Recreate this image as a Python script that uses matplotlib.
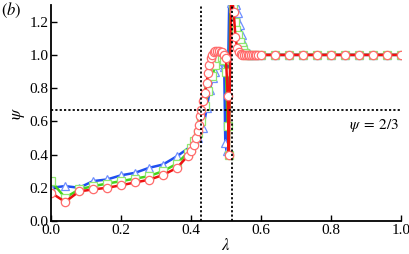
import matplotlib
matplotlib.use("Agg")
import matplotlib.pyplot as plt
import numpy as np

plt.rcParams['font.family'] = ['Liberation Serif', 'DejaVu Serif']
plt.rcParams['mathtext.fontset'] = 'stix'

# red circles
x_red = [0.0, 0.04, 0.08, 0.12, 0.16, 0.20, 0.24, 0.28, 0.32, 0.36,
         0.39, 0.40, 0.41, 0.415, 0.42, 0.423, 0.426, 0.43, 0.435, 0.44,
         0.445, 0.448, 0.452, 0.456, 0.46, 0.465, 0.47, 0.475, 0.48, 0.485,
         0.49, 0.495, 0.50, 0.505, 0.508, 0.515, 0.522, 0.527, 0.532, 0.537,
         0.542, 0.547, 0.552, 0.557, 0.562, 0.567, 0.572, 0.577, 0.582, 0.587,
         0.592, 0.60, 0.64, 0.68, 0.72, 0.76, 0.80, 0.84, 0.88, 0.92, 0.96, 1.0]
y_red = [0.17, 0.115, 0.178, 0.19, 0.20, 0.215, 0.232, 0.248, 0.277, 0.32,
         0.39, 0.42, 0.46, 0.50, 0.54, 0.58, 0.63, 0.67, 0.72, 0.77,
         0.83, 0.89, 0.94, 0.98, 1.0, 1.015, 1.022, 1.025, 1.022, 1.02,
         1.015, 1.0, 0.98, 0.75, 0.40, 1.40, 1.26, 1.11, 1.04, 1.015,
         1.005, 1.0, 1.0, 1.0, 1.0, 1.0, 1.0, 1.0, 1.0, 1.0,
         1.0, 1.0, 1.0, 1.0, 1.0, 1.0, 1.0, 1.0, 1.0, 1.0, 1.0, 1.0]

# green squares
x_green = [0.0, 0.04, 0.08, 0.12, 0.16, 0.20, 0.24, 0.28, 0.32, 0.36,
           0.39, 0.40, 0.41, 0.42, 0.43, 0.44, 0.45, 0.46, 0.47, 0.48,
           0.49, 0.495, 0.50, 0.505, 0.508, 0.513, 0.52, 0.525, 0.53, 0.535,
           0.54, 0.545, 0.55, 0.555, 0.56, 0.57, 0.58,
           0.60, 0.64, 0.68, 0.72, 0.76, 0.80, 0.84, 0.88, 0.92, 0.96, 1.0]
y_green = [0.24, 0.14, 0.19, 0.21, 0.225, 0.24, 0.255, 0.27, 0.30, 0.345,
           0.41, 0.44, 0.48, 0.53, 0.60, 0.69, 0.78, 0.87, 0.94, 0.98,
           0.99, 0.97, 0.90, 0.57, 0.40, 1.40, 1.28, 1.20, 1.15, 1.12,
           1.08, 1.05, 1.03, 1.01, 1.0, 1.0, 1.0,
           1.0, 1.0, 1.0, 1.0, 1.0, 1.0, 1.0, 1.0, 1.0, 1.0, 1.0]

# blue triangles
x_blue = [0.0, 0.04, 0.08, 0.12, 0.16, 0.20, 0.24, 0.28, 0.32, 0.36,
          0.40, 0.42, 0.435, 0.445, 0.454, 0.462, 0.469, 0.478, 0.485, 0.49,
          0.495, 0.498, 0.502, 0.51, 0.515, 0.52, 0.525, 0.53, 0.535, 0.54,
          0.545, 0.55, 0.555, 0.56, 0.565, 0.57, 0.58,
          0.60, 0.64, 0.68, 0.72, 0.76, 0.80, 0.84, 0.88, 0.92, 0.96, 1.0]
y_blue = [0.20, 0.21, 0.20, 0.24, 0.25, 0.275, 0.29, 0.32, 0.34, 0.39,
          0.45, 0.50, 0.56, 0.68, 0.79, 0.86, 0.90, 0.945, 0.965, 0.975,
          0.93, 0.47, 0.42, 1.40, 1.31, 1.31, 1.31, 1.30, 1.25, 1.18,
          1.12, 1.08, 1.04, 1.02, 1.01, 1.0, 1.0,
          1.0, 1.0, 1.0, 1.0, 1.0, 1.0, 1.0, 1.0, 1.0, 1.0, 1.0]

lam_c1 = 0.43
lam_c2 = 0.518
psi_c = 2.0 / 3.0

fig = plt.figure(figsize=(4.09, 2.54), dpi=100)
ax = fig.add_axes([0.125, 0.13, 0.855, 0.85])

ax.plot(x_blue, y_blue, '-^', color='#1f4ff0', lw=1.8, ms=6,
        mfc='white', mec='#6f8fff', mew=0.9)
ax.plot(x_green, y_green, '-s', color='#44d41c', lw=1.8, ms=5.5,
        mfc='white', mec='#8fe870', mew=0.9)
ax.plot(x_red, y_red, '-o', color='#ee1111', lw=1.8, ms=6,
        mfc='white', mec='#ff6b6b', mew=0.9)

ax.axvline(lam_c1, color='k', ls=(0, (1.2, 1.2)), lw=1.3)
ax.axvline(lam_c2, color='k', ls=(0, (1.2, 1.2)), lw=1.3)
ax.axhline(psi_c, color='k', ls=(0, (1.2, 1.2)), lw=1.3)

ax.text(0.995, 0.625, r'$\psi\;=\;2/3$', ha='right', va='top', fontsize=11)

ax.set_xlim(0, 1.0)
ax.set_ylim(0, 1.3)
ax.set_xticks(np.arange(0, 1.01, 0.2))
ax.set_yticks(np.arange(0, 1.21, 0.2))
ax.set_xticklabels(['%.1f' % v for v in np.arange(0, 1.01, 0.2)])
ax.set_yticklabels(['%.1f' % v for v in np.arange(0, 1.21, 0.2)])
ax.tick_params(direction='in', length=4, width=1.0, labelsize=11, pad=2)
ax.spines['top'].set_visible(False)
ax.spines['right'].set_visible(False)
ax.spines['left'].set_linewidth(1.3)
ax.spines['bottom'].set_linewidth(1.3)

ax.set_xlabel(r'$\lambda$', fontsize=12, labelpad=1)
ax.set_ylabel(r'$\psi$', fontsize=12, labelpad=2)

fig.text(0.003, 0.995, r'$(b)$', ha='left', va='top', fontsize=12)

fig.savefig('out.png', dpi=100)
